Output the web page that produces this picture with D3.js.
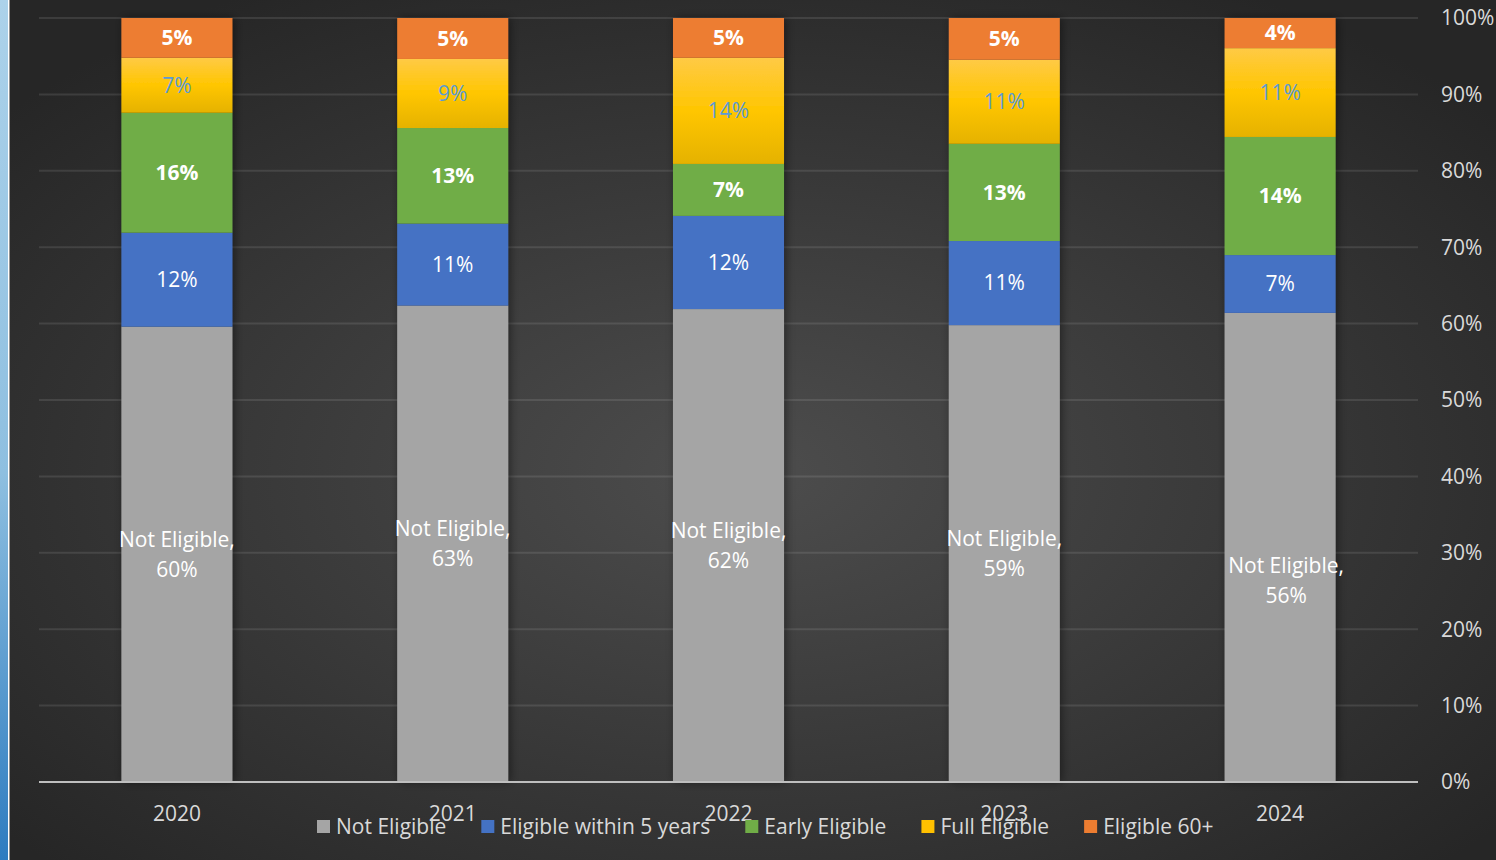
<!DOCTYPE html>
<html>
<head>
  <meta charset="utf-8" />
  <title>Retirement eligibility</title>
  <script src="https://cdn.jsdelivr.net/npm/d3@7"></script>
  <style>
    html, body { margin: 0; padding: 0; background: #2b2b2b; }
    svg { display: block; font-family: "Open Sans", "Noto Sans", sans-serif; }
  </style>
</head>
<body>
  <script>
    // - - - - - DATA - - - - - //
    var years = ["2020", "2021", "2022", "2023", "2024"];
    var categories = ["Not Eligible", "Eligible within 5 years", "Early Eligible", "Full Eligible", "Eligible 60+"];
    // values per category, one per year (chart is a 100% stack)
    var notEligible   = [59.6, 62.8, 61.9, 59.2, 56.0];
    var within5Years  = [12.3, 10.8, 12.2, 10.9, 6.9];
    var earlyEligible = [15.7, 12.6, 6.8, 12.6, 14.1];
    var fullEligible  = [7.2, 9.1, 13.9, 10.9, 10.6];
    var eligible60    = [5.2, 5.4, 5.2, 5.4, 3.6];
    var yTicks = [0, 0.1, 0.2, 0.3, 0.4, 0.5, 0.6, 0.7, 0.8, 0.9, 1];

    var series = [notEligible, within5Years, earlyEligible, fullEligible, eligible60];
    var colors = ["#a5a5a5", "#4472c4", "#70ad47", "url(#yellowGrad)", "#ed7d31"];
    var swatch = ["#a5a5a5", "#4472c4", "#70ad47", "#ffc000", "#ed7d31"];
    var labelColor = ["#ffffff", "#ffffff", "#ffffff", "#5b9bd5", "#ffffff"];
    var labelWeight = ["normal", "normal", "bold", "normal", "bold"];

    // - - - - - CANVAS - - - - - //
    var w = 1496, h = 860;
    var plotLeft = 39, plotRight = 1418, plotTop = 18, plotBottom = 782;
    var fs = "21px";

    var svg = d3.select("body").append("svg")
      .attr("width", w)
      .attr("height", h);

    var defs = svg.append("defs");
    var bg = defs.append("radialGradient").attr("id", "bgGrad")
      .attr("cx", "50%").attr("cy", "55%").attr("r", "65%");
    bg.append("stop").attr("offset", "0%").attr("stop-color", "#4d4d4d");
    bg.append("stop").attr("offset", "100%").attr("stop-color", "#262626");

    var yg = defs.append("linearGradient").attr("id", "yellowGrad")
      .attr("x1", 0).attr("y1", 0).attr("x2", 0).attr("y2", 1);
    yg.append("stop").attr("offset", "0%").attr("stop-color", "#ffca45");
    yg.append("stop").attr("offset", "50%").attr("stop-color", "#ffc600");
    yg.append("stop").attr("offset", "100%").attr("stop-color", "#e5b200");

    var strip = defs.append("linearGradient").attr("id", "stripGrad")
      .attr("x1", 0).attr("y1", 0).attr("x2", 0).attr("y2", 1);
    strip.append("stop").attr("offset", "0%").attr("stop-color", "#acd2ea");
    strip.append("stop").attr("offset", "55%").attr("stop-color", "#8ebfe0");
    strip.append("stop").attr("offset", "100%").attr("stop-color", "#2e7cc0");

    var shadow = defs.append("filter").attr("id", "shadow")
      .attr("x", "-20%").attr("y", "-5%").attr("width", "140%").attr("height", "110%");
    shadow.append("feDropShadow")
      .attr("dx", 2).attr("dy", 0).attr("stdDeviation", 5)
      .attr("flood-color", "#000").attr("flood-opacity", 0.45);

    // background + left strip
    svg.append("rect").attr("width", w).attr("height", h).attr("fill", "url(#bgGrad)");
    svg.append("rect").attr("width", 8).attr("height", h).attr("fill", "url(#stripGrad)");
    svg.append("rect").attr("x", 8).attr("width", 1.5).attr("height", h).attr("fill", "#ffffff");

    // - - - - - SCALES - - - - - //
    var x = d3.scaleBand()
      .domain(years)
      .range([plotLeft, plotRight])
      .paddingInner(0.5975)
      .paddingOuter(0.29875);
    var y = d3.scaleLinear().domain([0, 1]).range([plotBottom, plotTop]);

    // rows for the stack
    var rows = years.map(function(yr, i) {
      var r = { year: yr };
      categories.forEach(function(c, k) { r[c] = series[k][i]; });
      return r;
    });
    var stacked = d3.stack().keys(categories).offset(d3.stackOffsetExpand)(rows);

    // - - - - - GRID - - - - - //
    svg.append("g").selectAll("line")
      .data(yTicks.filter(function(t) { return t > 0; }))
      .enter().append("line")
      .attr("x1", plotLeft).attr("x2", plotRight)
      .attr("y1", function(d) { return y(d); })
      .attr("y2", function(d) { return y(d); })
      .attr("stroke", "rgba(255,255,255,0.1)")
      .attr("stroke-width", 2);

    // y tick labels on the right
    svg.append("g").selectAll("text")
      .data(yTicks)
      .enter().append("text")
      .attr("x", 1441)
      .attr("y", function(d) { return y(d); })
      .attr("dy", "0.35em")
      .attr("fill", "#d9d9d9")
      .attr("font-size", fs)
      .text(d3.format(".0%"));

    // - - - - - BARS - - - - - //
    var cols = svg.append("g").selectAll("g")
      .data(years)
      .enter().append("g")
      .attr("filter", "url(#shadow)");

    cols.selectAll("rect")
      .data(function(yr, i) {
        return stacked.map(function(s, k) { return { k: k, seg: s[i] }; });
      })
      .enter().append("rect")
      .attr("x", function(d) { return x(d.seg.data.year); })
      .attr("width", x.bandwidth())
      .attr("y", function(d) { return y(d.seg[1]); })
      .attr("height", function(d) { return y(d.seg[0]) - y(d.seg[1]); })
      .attr("fill", function(d) { return colors[d.k]; });

    // axis line
    svg.append("line")
      .attr("x1", plotLeft).attr("x2", plotRight)
      .attr("y1", plotBottom).attr("y2", plotBottom)
      .attr("stroke", "#bfbfbf")
      .attr("stroke-width", 2);

    // - - - - - DATA LABELS - - - - - //
    var labels = svg.append("g");
    stacked.forEach(function(s, k) {
      s.forEach(function(seg, i) {
        var cx = x(years[i]) + x.bandwidth() / 2;
        var cy = (y(seg[0]) + y(seg[1])) / 2;
        var pct = Math.round(series[k][i]) + "%";
        var t = labels.append("text")
          .attr("text-anchor", "middle")
          .attr("fill", labelColor[k])
          .attr("font-weight", labelWeight[k])
          .attr("font-size", fs);
        if (k === 0) {
          // the last "Not Eligible" label was dragged a little in the original
          if (i === years.length - 1) { cx += 6; cy += 33; }
          t.append("tspan").attr("x", cx).attr("y", cy - 15).attr("dy", "0.35em").text(categories[0] + ",");
          t.append("tspan").attr("x", cx).attr("y", cy + 15).attr("dy", "0.35em").text(pct);
        } else {
          t.attr("x", cx).attr("y", cy).attr("dy", "0.35em").text(pct);
        }
      });
    });

    // x labels
    svg.append("g").selectAll("text")
      .data(years)
      .enter().append("text")
      .attr("x", function(d) { return x(d) + x.bandwidth() / 2; })
      .attr("y", 821)
      .attr("text-anchor", "middle")
      .attr("fill", "#d9d9d9")
      .attr("font-size", fs)
      .text(function(d) { return d; });

    // - - - - - LEGEND - - - - - //
    var legend = svg.append("g");
    var lx = 317;
    categories.forEach(function(c, k) {
      legend.append("rect")
        .attr("x", lx).attr("y", 820)
        .attr("width", 13).attr("height", 13)
        .attr("fill", swatch[k]);
      var t = legend.append("text")
        .attr("x", lx + 19).attr("y", 834)
        .attr("fill", "#d9d9d9")
        .attr("font-size", fs)
        .text(c);
      lx += 19 + t.node().getComputedTextLength() + 35;
    });
  </script>
</body>
</html>
